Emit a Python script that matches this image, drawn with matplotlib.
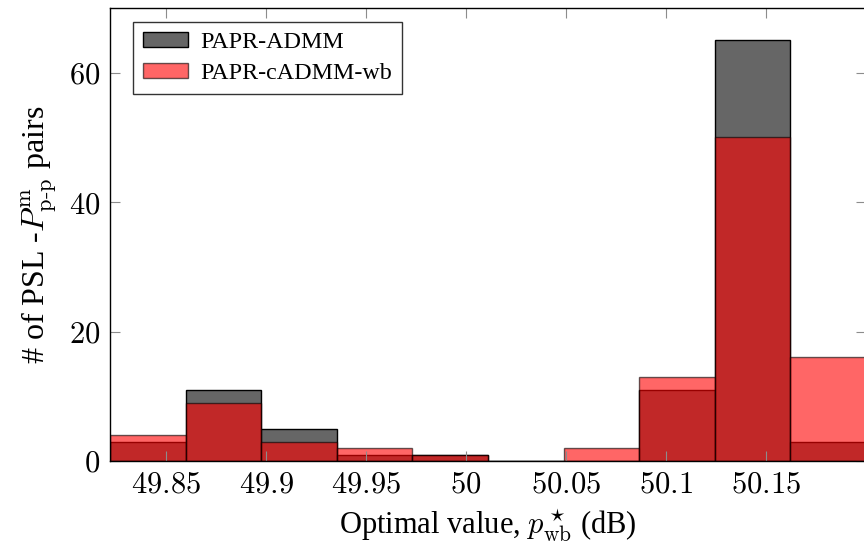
import numpy as np
import matplotlib.pyplot as plt
from matplotlib.patches import Patch

plt.rcParams['mathtext.fontset'] = 'cm'
plt.rcParams['font.family'] = ['Liberation Serif', 'DejaVu Serif']

# histogram bins (dB) and counts per bin
bin_edges = np.linspace(49.822, 50.2, 11)
admm_counts = [3, 11, 5, 1, 1, 0, 0, 11, 65, 3]
cadmm_wb_counts = [4, 9, 3, 2, 1, 0, 2, 13, 50, 16]
series_names = ["PAPR-ADMM", "PAPR-cADMM-wb"]

xticks = [49.85, 49.9, 49.95, 50.0, 50.05, 50.1, 50.15]
xtick_labels = ["49.85", "49.9", "49.95", "50", "50.05", "50.1", "50.15"]
yticks = [0, 20, 40, 60]

fig = plt.figure(figsize=(8.64, 5.49), dpi=100)
ax = fig.add_axes([110 / 864, 1 - 461 / 549, 756 / 864, 453 / 549])

left = bin_edges[:-1]
width = np.diff(bin_edges)
ax.bar(left, admm_counts, width=width, align='edge', color='#666666',
       edgecolor='black', linewidth=1.0)
ax.bar(left, cadmm_wb_counts, width=width, align='edge', color='red',
       alpha=0.6, edgecolor='black', linewidth=1.0)

ax.set_xlim(bin_edges[0], bin_edges[-1])
ax.set_ylim(0, 70)
ax.set_xticks(xticks)
ax.set_xticklabels([f"${t}$" for t in xtick_labels], fontsize=22)
ax.set_yticks(yticks)
ax.set_yticklabels([f"${t}$" for t in yticks], fontsize=22)
ax.tick_params(direction='in', top=True, right=True, length=7,
               width=0.8, color='0.55', pad=7)
for s in ax.spines.values():
    s.set_linewidth(1.0)

ax.set_xlabel(r"Optimal value, $p^\star_{\rm wb}$ (dB)", fontsize=22, labelpad=5)
ax.set_ylabel(r"# of PSL -$P^{\rm m}_{\rm p\text{-}p}$ pairs", fontsize=23, labelpad=8)

handles = [Patch(facecolor='#666666', edgecolor='black'),
           Patch(facecolor='red', alpha=0.6, edgecolor='black')]
leg = ax.legend(handles, series_names, loc='upper left', fontsize=17.3,
                frameon=True, fancybox=False, edgecolor='black',
                bbox_to_anchor=(0.03, 0.97), handlelength=1.9,
                handleheight=0.6, borderpad=0.42, labelspacing=0.42,
                handletextpad=0.5, borderaxespad=0.0)
leg.get_frame().set_linewidth(1.0)

fig.savefig("out.png", dpi=100)
